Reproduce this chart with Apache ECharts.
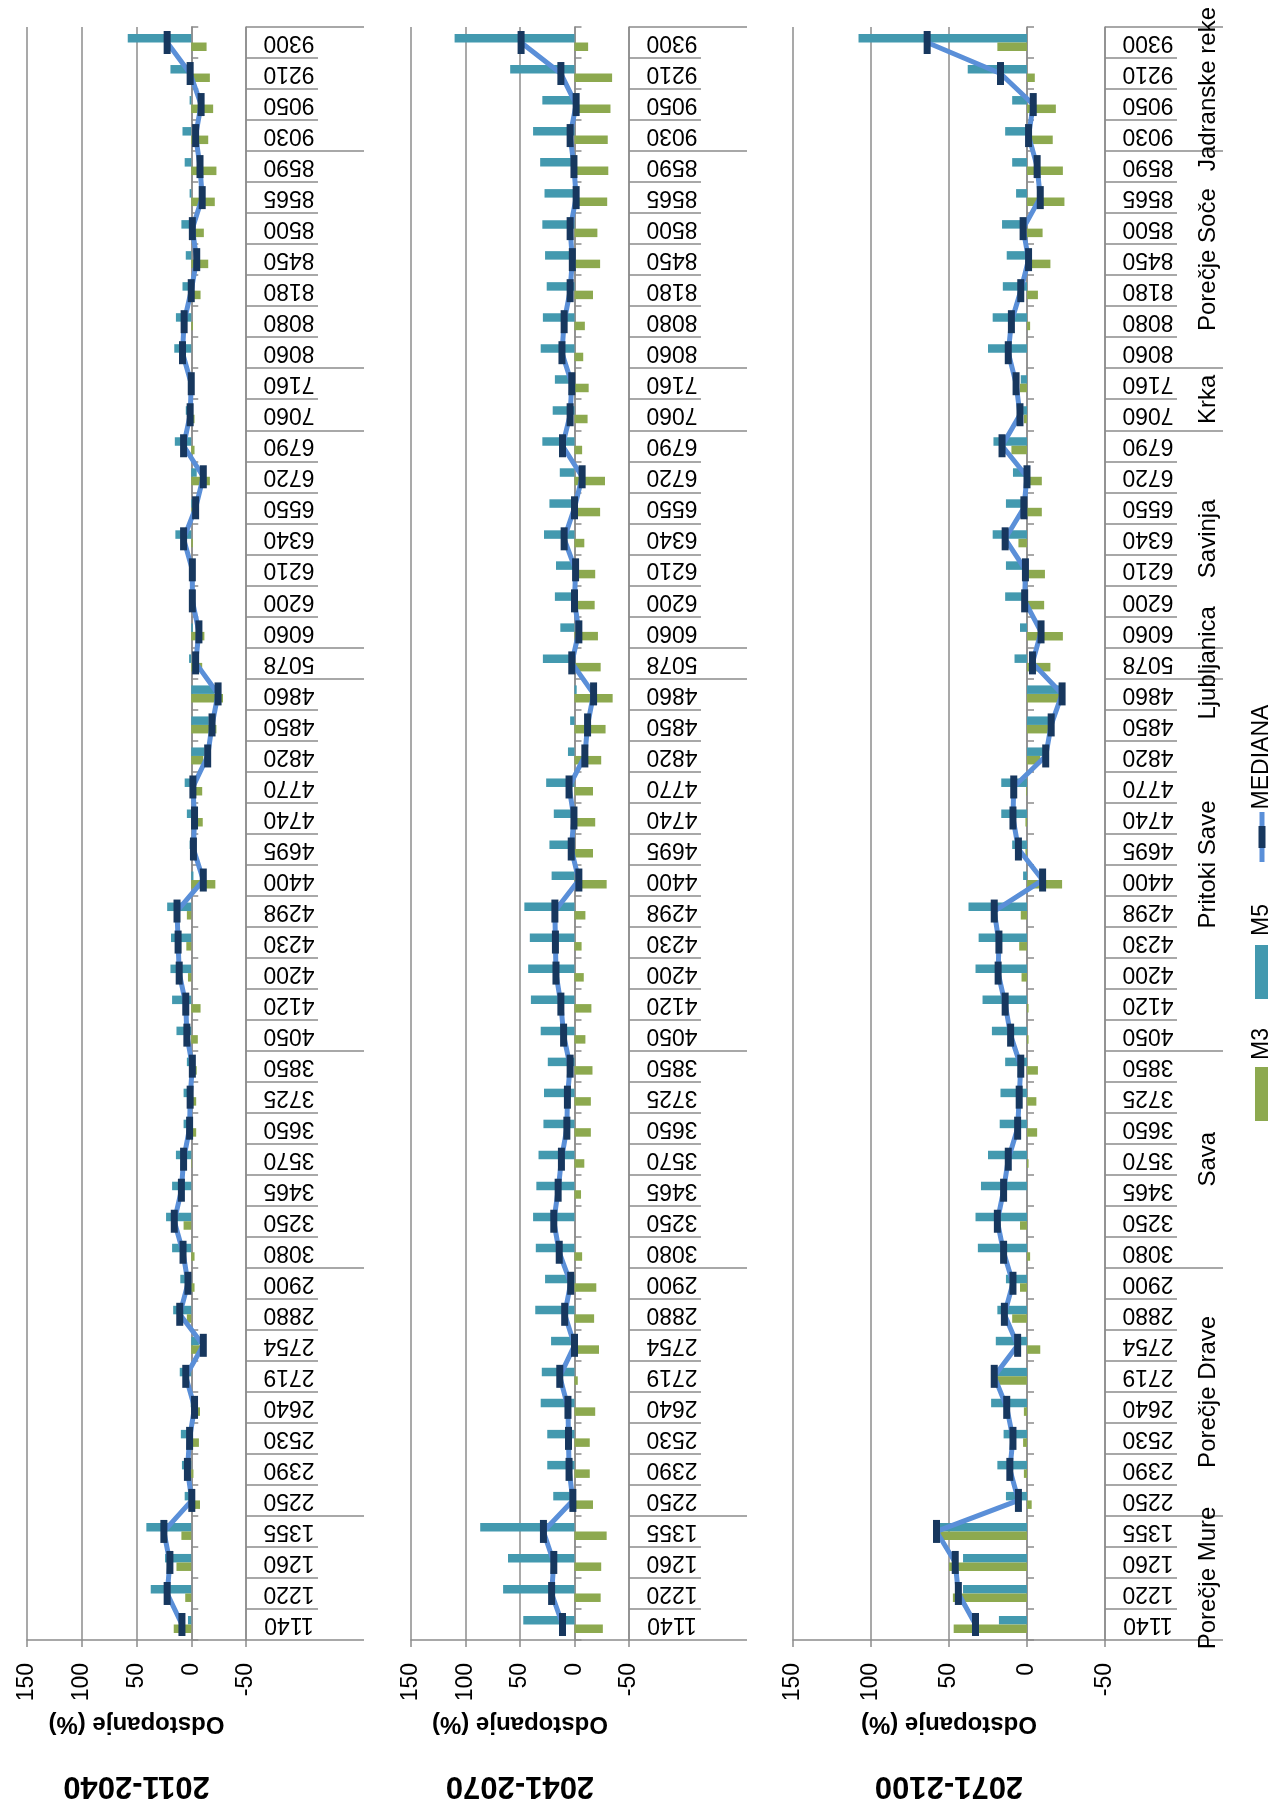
<!DOCTYPE html>
<html><head><meta charset="utf-8">
<script src="https://cdn.jsdelivr.net/npm/echarts@6/dist/echarts.min.js"></script>
<style>html,body{margin:0;padding:0;background:#fff}#c{width:1274px;height:1814px}</style>
</head><body><div id="c"></div>
<script>
// categories listed from bottom (1140) to top (9300)
const categories = ['1140','1220','1260','1355','2250','2390','2530','2640','2719','2754','2880','2900','3080','3250','3465','3570','3650','3725','3850','4050','4120','4200','4230','4298','4400','4695','4740','4770','4820','4850','4860','5078','6060','6200','6210','6340','6550','6720','6790','7060','7160','8060','8080','8180','8450','8500','8565','8590','9030','9050','9210','9300'];
const groupNames = ['Porečje Mure','Porečje Drave','Sava','Pritoki Save','Ljubljanica','Savinja','Krka','Porečje Soče','Jadranske reke'];
const groupSizes = [4,8,7,12,1,7,2,7,4];
const periods = ['2011-2040','2041-2070','2071-2100'];
const valueTicks = [-50,0,50,100,150];
const seriesNames = ['M3','M5','MEDIANA'];

// 2011-2040
const p1M3 = [16,5.5,13.5,9,-8,-2,-7,-8,0,-9,4,-3,-3,7,0,-0.5,-4.5,-4.5,-5,-6,-8.5,3,4.5,4,-22,-2,-10.5,-10,-11,-23,-29,-10,-12,-1,-2,-1.5,-2,-17,-3,-3,-1,0,-1.5,-8.5,-15.5,-11.5,-21.5,-23,-15.5,-20,-17,-14];
const p1M5 = [3,37,24,41,6,8.5,9.5,0.5,10.5,-7,16.5,10,17.5,23,17.5,14,7,7,4,13.5,17.5,19,18.5,22,-2,1.5,4,6,-12,-16,-21,2,-1.5,0.5,0.5,14.5,-1,-5,15,5,1,15.5,14,8,5,9,1.5,6,8,1.5,19,58];
const p1Med = [8.5,22,19.5,25,-0.5,3.5,1.5,-3,5,-11,10.5,3,7.5,15.5,9,7,1.5,1,-1,4,5,11,12,13,-11,-2,-3,-1.5,-15,-19,-24.5,-4,-7,-1,-1,7,-4,-11,7,1,0,8,6.5,0,-5,-1,-10,-8,-4,-9,1,22];
// 2041-2070
const p2M3 = [-26,-24,-24.5,-29.5,-17,-14,-14,-19,-3,-22.5,-18,-20,-7,0,-6,-9,-15,-15,-16.5,-10,-15.5,-8.5,-6.5,-10,-29.5,-17,-19,-17,-24.5,-28.5,-35,-24,-21.5,-18.5,-19,-9,-23.5,-28,-7,-12,-13,-8,-9.5,-17,-23.5,-21,-30,-31,-30.5,-33,-34.5,-12.5];
const p2M5 = [47,65.5,61,86.5,19.5,25,25,31,30,21.5,36,27,35.5,38,35,33,28.5,28,24.5,31,40,42.5,41,46,21,23,19,26,6,4,-2,29,13,18,17,28,23,13.5,29.5,20,18,31,29,25.5,27,29.5,27.5,31.5,38,29.5,59,110];
const p2Med = [11,21,19,28.5,1.5,5,5.5,6,13.5,0,9,3.5,14,19,15,12,7,6.5,4,10,12.5,17,17.5,18,-4,3,0.5,5,-9.5,-12,-17.5,2.5,-4,0,-1,9.5,0,-7,11,4,2.5,11.5,9.5,4,2,4,-1.5,0.5,4,-1.5,12.5,49];
// 2071-2100
const p3M3 = [47,47.5,50,56,-3,2,2.5,2,21,-8.5,9.5,4.5,-2,4.5,0,-1,-6.5,-6,-7,-1,-1,3.5,5,4,-22.5,1,1,0.5,-8.5,-14,-21,-15,-23,-11,-11.5,5.5,-9.5,-9.5,10,2,4.5,0,-2,-7,-15,-10,-24,-23,-16.5,-18.5,-5,19];
const p3M5 = [18,41,41,59,13.5,19,15,23,20,20,19,13.5,31.5,33,29.5,25,17.5,17,14,22.5,28.5,33,31,37.5,2.5,9.5,16.5,16.5,-10.5,-14.5,-20.5,8,4.5,14,13.5,22,13.5,9,21.5,2.5,4,25,22,15.5,13,16,7,9.5,14,9.5,38,108];
const p3Med = [33,44,46,58,5.5,11,9,13,21,6,14.5,9,15,19,15,12,6,5,4,10.5,14,18.5,18,21,-10,5.5,9,8.5,-12,-15.5,-22.5,-3.5,-9,1.5,1,14,2,0,16,4.5,7,12,10,4,-1,2.5,-8.5,-6.5,-1,-4,17,64];

const panelData = [[p1M3,p1M5,p1Med],[p2M3,p2M5,p2Med],[p3M3,p3M5,p3Med]];

const FONT = '"Liberation Sans", Arial, sans-serif';
const GRAY = '#8c8c8c';
const C_M3 = '#8DA94F', C_M5 = '#4399AF', C_LINE = '#5A8FD8', C_MARK = '#17375E';
const panels = [{left:27,width:219},{left:411,width:218},{left:793,width:312}];
const TOP = 27, HEIGHT = 1613;

const groupBounds = [0];
groupSizes.forEach(s => groupBounds.push(groupBounds[groupBounds.length-1] + s));
const groupCenters = groupNames.map((n,k) => (groupBounds[k] + groupBounds[k+1]) / 2);

const grid = [], xAxis = [], yAxis = [], series = [], graphic = [];
panels.forEach((p, i) => {
  grid.push({left: p.left, width: p.width, top: TOP, height: HEIGHT, containLabel: false});
  xAxis.push({
    type: 'value', gridIndex: i, inverse: true,
    min: valueTicks[0], max: valueTicks[valueTicks.length-1], interval: 50,
    axisLine: {show: true, onZero: false, lineStyle: {color: GRAY, width: 1.5}},
    axisTick: {show: true, length: 7, lineStyle: {color: GRAY, width: 1.5}},
    splitLine: {show: true, lineStyle: {color: GRAY, width: 1.5}},
    axisLabel: {rotate: 90, fontSize: 23, color: '#000', fontFamily: FONT, margin: 23},
    name: 'Odstopanje (%)', nameLocation: 'middle', nameGap: 72, nameRotate: 180,
    nameTextStyle: {fontSize: 24, fontWeight: 'bold', color: '#000', fontFamily: FONT}
  });
  // axis line at zero
  yAxis.push({
    type: 'category', gridIndex: i, data: categories, position: 'left',
    axisLine: {show: true, onZero: true, lineStyle: {color: GRAY, width: 1.5}},
    axisTick: {show: true, inside: true, length: 7, lineStyle: {color: GRAY, width: 1.5}},
    axisLabel: {show: false}, splitLine: {show: false}
  });
  // category label table at the low end
  yAxis.push({
    type: 'category', gridIndex: i, data: categories, position: 'right', offset: 0,
    axisLine: {show: true, onZero: false, lineStyle: {color: GRAY, width: 1.5}},
    axisTick: {show: true, length: 72, lineStyle: {color: GRAY, width: 1.5}},
    axisLabel: {show: true, interval: 0, rotate: 180, align: 'center', verticalAlign: 'middle',
      margin: 43, fontSize: 23, color: '#000', fontFamily: FONT},
    splitLine: {show: false}
  });
  // group level
  yAxis.push({
    type: 'value', gridIndex: i, min: 0, max: categories.length, position: 'right', offset: 0,
    axisLine: {show: false, onZero: false},
    axisTick: {show: true, length: 118, customValues: groupBounds, lineStyle: {color: GRAY, width: 1.5}},
    axisLabel: {show: i === 2, customValues: groupCenters, rotate: 90, align: 'center', verticalAlign: 'middle',
      margin: 103, fontSize: 24, color: '#000', fontFamily: FONT,
      formatter: v => { const k = groupCenters.indexOf(v); return k >= 0 ? groupNames[k] : ''; }},
    splitLine: {show: false}
  });
  const d = panelData[i];
  // M5 first so that it sits above M3 within each row
  series.push({type: 'bar', name: seriesNames[1], xAxisIndex: i, yAxisIndex: 3*i, data: d[1],
    barWidth: 8.5, barGap: '0%', itemStyle: {color: C_M5}, z: 2});
  series.push({type: 'bar', name: seriesNames[0], xAxisIndex: i, yAxisIndex: 3*i, data: d[0],
    barWidth: 8.5, barGap: '0%', itemStyle: {color: C_M3}, z: 2});
  series.push({type: 'line', name: seriesNames[2], xAxisIndex: i, yAxisIndex: 3*i, data: d[2],
    symbol: 'rect', symbolSize: [7, 23], showAllSymbol: true,
    lineStyle: {color: C_LINE, width: 5}, itemStyle: {color: C_MARK}, z: 5});
  graphic.push({type: 'text', x: p.left + p.width/2, y: 1786, rotation: Math.PI,
    style: {text: periods[i], fontSize: 31, fontWeight: 'bold', fontFamily: FONT, fill: '#000',
      align: 'center', verticalAlign: 'middle'}});
});

// legend (rotated, drawn as graphic)
const LX = 1262;
graphic.push(
  {type: 'text', x: LX, y: 1044, rotation: Math.PI/2,
    style: {text: seriesNames[0], fontSize: 23, fontFamily: FONT, fill: '#000', align: 'center', verticalAlign: 'middle'}},
  {type: 'rect', shape: {x: LX-7, y: 1067, width: 13, height: 54}, style: {fill: C_M3}},
  {type: 'text', x: LX, y: 920, rotation: Math.PI/2,
    style: {text: seriesNames[1], fontSize: 23, fontFamily: FONT, fill: '#000', align: 'center', verticalAlign: 'middle'}},
  {type: 'rect', shape: {x: LX-7, y: 945, width: 13, height: 54}, style: {fill: C_M5}},
  {type: 'text', x: LX, y: 757, rotation: Math.PI/2,
    style: {text: seriesNames[2], fontSize: 23, fontFamily: FONT, fill: '#000', align: 'center', verticalAlign: 'middle'}},
  {type: 'line', shape: {x1: LX, y1: 812, x2: LX, y2: 862}, style: {stroke: C_LINE, lineWidth: 5}},
  {type: 'rect', shape: {x: LX-3.5, y: 826, width: 7, height: 22}, style: {fill: C_MARK}}
);

const chart = echarts.init(document.getElementById('c'), null, {renderer: 'canvas'});
chart.setOption({
  animation: false,
  backgroundColor: '#fff',
  textStyle: {fontFamily: FONT},
  grid, xAxis, yAxis, series, graphic
});
</script>
</body></html>
